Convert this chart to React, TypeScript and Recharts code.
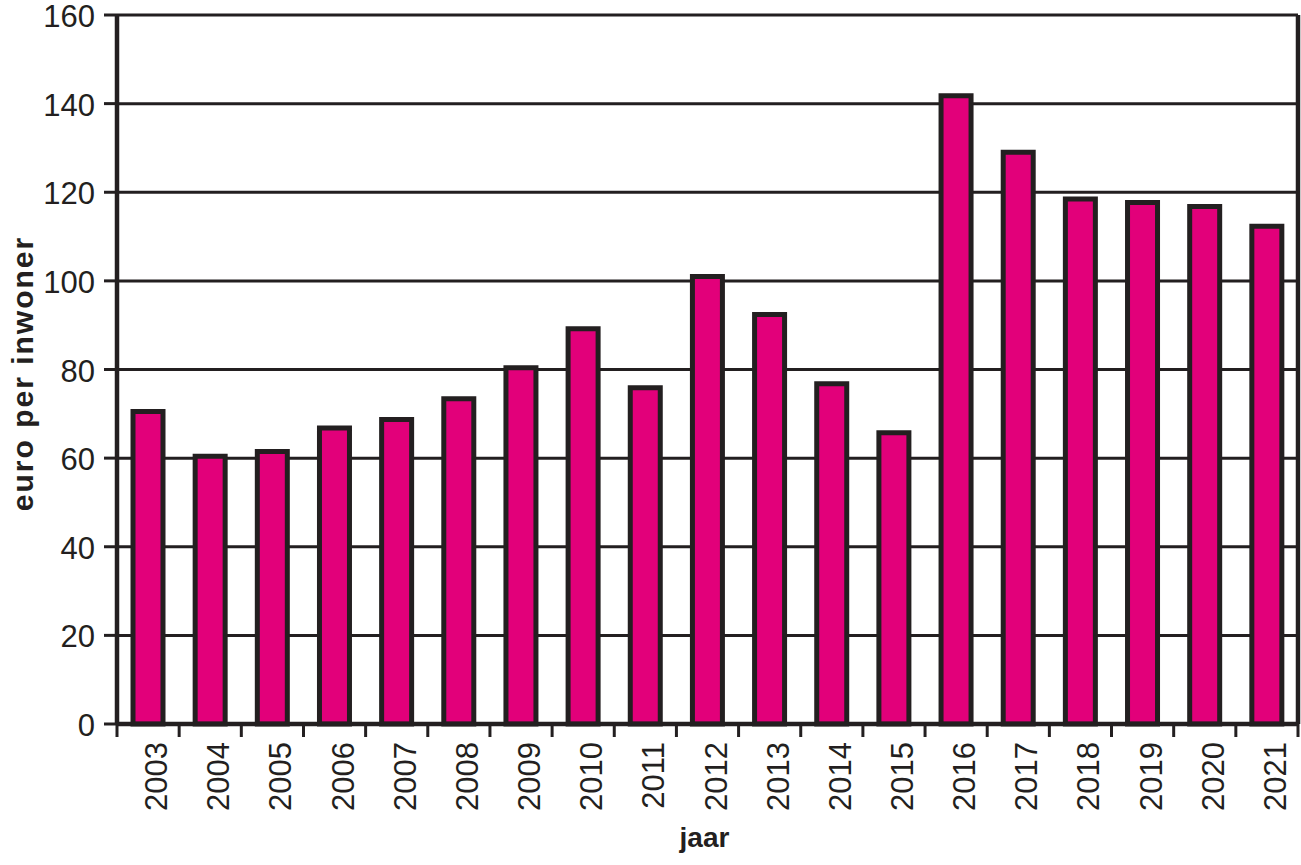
import { Bar, BarChart, CartesianGrid, Label, XAxis, YAxis } from "recharts";

const years = [
  "2003", "2004", "2005", "2006", "2007", "2008", "2009", "2010", "2011", "2012",
  "2013", "2014", "2015", "2016", "2017", "2018", "2019", "2020", "2021",
];
const euroPerInwoner = [
  70.5, 60.4, 61.5, 66.8, 68.7, 73.4, 80.4, 89.2, 75.9, 101.0,
  92.4, 76.8, 65.7, 141.8, 129.0, 118.5, 117.7, 116.8, 112.3,
];
const yTicks = [0, 20, 40, 60, 80, 100, 120, 140, 160];

const data = years.map((jaar, i) => ({ jaar, waarde: euroPerInwoner[i] }));

const W = 1301;
const H = 865;
const Y_AXIS_W = 117;
const RIGHT_W = 3;
const STEP = (W - Y_AXIS_W - RIGHT_W) / years.length;
const INK = "#231F20";
const FONT = "'Liberation Sans', Arial, sans-serif";

function YearTick(props: any) {
  const { x, y, payload, index } = props;
  const left = x - STEP / 2;
  const right = x + STEP / 2;
  return (
    <g>
      <line x1={left} x2={left} y1={y - 13} y2={y} stroke={INK} strokeWidth={3} />
      {index === years.length - 1 && (
        <line x1={right} x2={right} y1={y - 13} y2={y} stroke={INK} strokeWidth={3} />
      )}
      <text
        x={x + 19}
        y={y + 5}
        transform={`rotate(-90, ${x + 19}, ${y + 5})`}
        textAnchor="end"
        fill={INK}
        fontSize={31}
        fontFamily={FONT}
      >
        {payload.value}
      </text>
    </g>
  );
}

function ValueTick(props: any) {
  const { x, y, payload } = props;
  return (
    <text
      x={x}
      y={y + 12}
      textAnchor="end"
      fill={INK}
      fontSize={31}
      fontFamily={FONT}
    >
      {payload.value}
    </text>
  );
}

export default function App() {
  return (
    <div style={{ position: "absolute", left: 0, top: 0, background: "#fff" }}>
      <BarChart
        width={W}
        height={H}
        data={data}
        margin={{ top: 15, right: 0, left: 0, bottom: 0 }}
        barCategoryGap={0}
      >
        <CartesianGrid vertical={false} stroke={INK} strokeWidth={3} />
        <XAxis
          dataKey="jaar"
          height={H - 724}
          interval={0}
          tickLine={false}
          tickSize={13}
          tickMargin={0}
          axisLine={{ stroke: INK, strokeWidth: 4.5 }}
          tick={<YearTick />}
        >
          <Label
            content={(p: any) => {
              const vb = p.viewBox;
              return (
                <text
                  x={vb.x + vb.width / 2 - 3}
                  y={vb.y + vb.height - 18}
                  textAnchor="middle"
                  fill={INK}
                  fontSize={28}
                  fontWeight="bold"
                  fontFamily={FONT}
                >
                  jaar
                </text>
              );
            }}
          />
        </XAxis>
        <XAxis
          xAxisId="top"
          dataKey="jaar"
          orientation="top"
          height={0}
          tick={false}
          tickLine={false}
          axisLine={{ stroke: INK, strokeWidth: 4.5 }}
        />
        <YAxis
          domain={[0, 160]}
          ticks={yTicks}
          interval={0}
          width={Y_AXIS_W}
          tickSize={13}
          tickMargin={9}
          tickLine={{ stroke: INK, strokeWidth: 3 }}
          axisLine={{ stroke: INK, strokeWidth: 4.5 }}
          tick={<ValueTick />}
        >
          <Label
            content={(p: any) => {
              const vb = p.viewBox;
              const cx = 33;
              const cy = vb.y + vb.height / 2 + 4;
              return (
                <text
                  x={cx}
                  y={cy}
                  transform={`rotate(-90, ${cx}, ${cy})`}
                  textAnchor="middle"
                  fill={INK}
                  fontSize={30}
                  fontWeight="bold"
                  letterSpacing={2}
                  fontFamily={FONT}
                >
                  euro per inwoner
                </text>
              );
            }}
          />
        </YAxis>
        <YAxis
          yAxisId="right"
          orientation="right"
          width={RIGHT_W}
          domain={[0, 160]}
          tick={false}
          tickLine={false}
          axisLine={{ stroke: INK, strokeWidth: 4.5 }}
        />
        <Bar
          dataKey="waarde"
          fill="#E2007A"
          stroke={INK}
          strokeWidth={5}
          barSize={30}
          isAnimationActive={false}
        />
      </BarChart>
    </div>
  );
}
